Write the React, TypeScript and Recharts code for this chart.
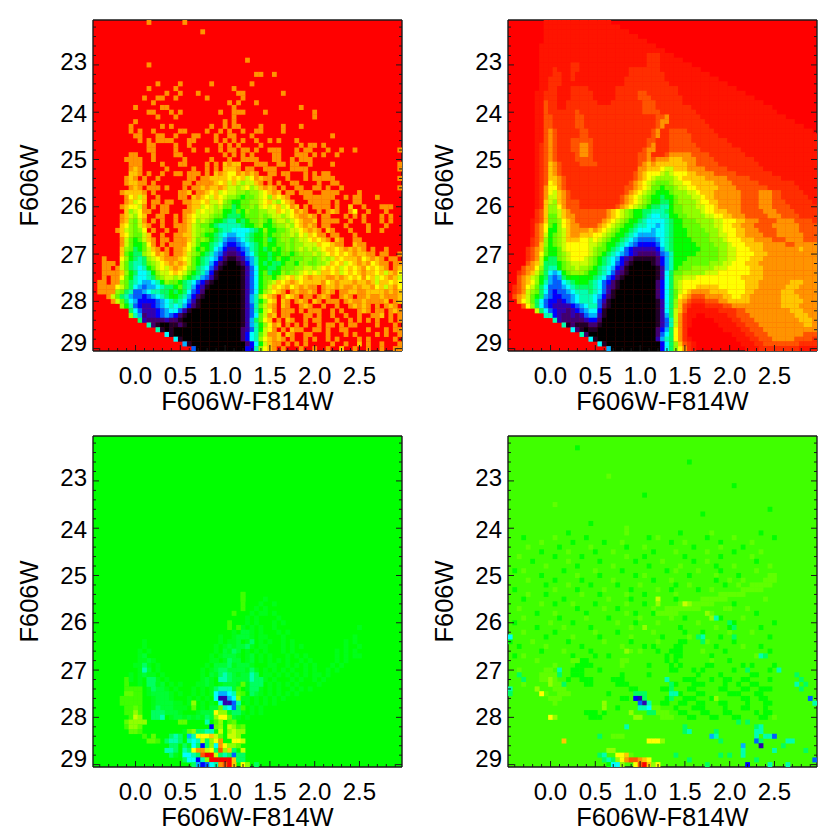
import { ReactElement } from "react";
import { ReferenceArea, Scatter, ScatterChart, XAxis, YAxis } from "recharts";

// colour bins are 0.05 mag wide, F606W bins 0.1 mag
const X_MIN = -0.475;
const X_MAX = 2.975;
const Y_MIN = 22.05;
const Y_MAX = 29.05;
const X_BIN = 0.05;
const Y_BIN = 0.1;

const X_TICKS = [
  -0.4, -0.3, -0.2, -0.1, 0, 0.1, 0.2, 0.3, 0.4, 0.5, 0.6, 0.7, 0.8, 0.9, 1, 1.1, 1.2,
  1.3, 1.4, 1.5, 1.6, 1.7, 1.8, 1.9, 2, 2.1, 2.2, 2.3, 2.4, 2.5, 2.6, 2.7, 2.8, 2.9,
];
const X_LABELS: Record<string, string> = {
  "0": "0.0", "0.5": "0.5", "1": "1.0", "1.5": "1.5", "2": "2.0", "2.5": "2.5",
};
const Y_TICKS = [
  22.2, 22.4, 22.6, 22.8, 23, 23.2, 23.4, 23.6, 23.8, 24, 24.2, 24.4, 24.6, 24.8, 25,
  25.2, 25.4, 25.6, 25.8, 26, 26.2, 26.4, 26.6, 26.8, 27, 27.2, 27.4, 27.6, 27.8, 28,
  28.2, 28.4, 28.6, 28.8, 29,
];
const Y_LABEL_NUDGE: Record<string, number> = {
  "23": -3, "24": 1, "25": 0, "26": -1, "27": 0, "28": -1, "29": -6,
};

const LEVELS: Record<string, string> = {
  "0": "#000000", "1": "#200028", "2": "#400070", "3": "#3000b0", "4": "#0000ff",
  "5": "#0060ff", "6": "#00b0ff", "7": "#00ffff", "8": "#00ffb0", "9": "#00ff60",
  o: "#00ff34", m: "#00ff1a", a: "#00ff00", n: "#40ff00", b: "#60ff00", c: "#90ff00", d: "#c8ff00",
  e: "#ffff00", f: "#ffc800", g: "#ff9400", h: "#ff5400", i: "#ff2e00", k: "#ff1400",
  j: "#ff0000",
};

// observed counts, one string per F606W bin, 10 colour bins per group; missing cells are background
const OBS_SPOTS: [number, number, string][] = [
  [0, 12, "g"], [0, 20, "g"], [2, 24, "g"], [8, 34, "g"], [9, 12, "g"], [11, 36, "g"], [11, 37, "g"], [11, 40, "g"],
  [13, 14, "g"], [13, 19, "g"], [13, 26, "g"], [13, 35, "g"], [14, 12, "g"], [14, 18, "g"], [14, 31, "g"],
  [15, 16, "g"], [15, 19, "g"], [15, 23, "g"], [15, 32, "g"], [15, 33, "g"], [15, 42, "g"],
  [16, 11, "g"], [16, 14, "g"], [16, 15, "g"], [16, 18, "g"], [16, 25, "g"], [16, 33, "g"],
  [17, 13, "g"], [17, 30, "g"], [17, 32, "g"], [17, 36, "g"],
  [18, 9, "g"], [18, 15, "g"], [18, 16, "g"], [18, 31, "g"], [18, 46, "g"],
  [19, 12, "g"], [19, 13, "g"], [19, 17, "g"], [19, 19, "g"], [19, 28, "g"], [19, 31, "g"], [19, 32, "g"], [19, 33, "g"], [19, 38, "g"], [19, 49, "g"],
  [20, 14, "g"], [20, 18, "g"], [20, 31, "g"], [20, 49, "g"],
  [21, 9, "g"], [21, 29, "g"], [21, 31, "g"],
  [22, 8, "g"], [22, 15, "g"], [22, 17, "g"], [22, 26, "g"], [22, 29, "g"], [22, 31, "g"], [22, 32, "g"], [22, 37, "g"], [22, 42, "g"], [22, 46, "g"],
  [23, 8, "g"], [23, 10, "g"], [23, 13, "g"], [23, 19, "g"], [23, 20, "g"], [23, 25, "g"], [23, 28, "g"], [23, 30, "g"], [23, 33, "g"], [23, 36, "g"], [23, 37, "g"], [23, 42, "g"],
  [24, 9, "g"], [24, 10, "g"], [24, 14, "g"], [24, 15, "g"], [24, 18, "g"], [24, 22, "g"], [24, 23, "g"], [24, 27, "g"], [24, 30, "g"], [24, 31, "g"], [24, 35, "g"], [24, 53, "g"],
  [25, 10, "g"], [25, 12, "g"], [25, 14, "g"], [25, 15, "g"], [25, 16, "g"], [25, 17, "g"], [25, 21, "g"], [25, 22, "g"], [25, 27, "g"], [25, 29, "g"], [25, 31, "g"], [25, 33, "g"], [25, 36, "g"], [25, 39, "g"], [25, 41, "g"], [25, 45, "g"],
  [26, 12, "g"], [26, 13, "g"], [26, 18, "g"], [26, 21, "g"], [26, 28, "g"], [26, 30, "g"], [26, 32, "g"], [26, 37, "g"], [26, 46, "g"], [26, 48, "g"], [26, 49, "g"], [26, 51, "g"],
  [27, 12, "g"], [27, 13, "g"], [27, 18, "g"], [27, 22, "g"], [27, 25, "g"], [27, 28, "g"], [27, 30, "g"], [27, 31, "g"], [27, 33, "g"], [27, 34, "g"], [27, 36, "g"], [27, 39, "g"], [27, 40, "g"], [27, 41, "g"], [27, 45, "g"], [27, 47, "g"], [27, 48, "g"], [27, 52, "g"], [27, 55, "g"], [27, 58, "g"], [27, 68, "g"],
];
const OBS_ROWS: string[] = [
  ...Array(28).fill(""),
  "jjjjjjjjgg jjjgjjjjgg jjjjjjjjjg jgjgjgjjjj ggjjjgggjg jgjjgjjjjj jjjjjjjjj",
  "jjjjjjjggg gjjgjjjjjj gjjjjjgjjj gjjggggjjj ggjjgjgggj jjjjjjjjjj jjjjjjjjj",
  "jjjjjjjjgg gjjjjgjjjg gjjjjgjgjf gffjjjgggj jggjggjjgj jjjgjjjjjj jjjjjjjjg",
  "jjjjjjjjgf gjjjjjgjjj jjgjjgjgjf ffgjggjjgg gjjjggggjj jjjjjjjjjj jjjjjjjjg",
  "jjjjjjjjff gjgjjgjjgg jgggjgjfgf eegfgfgjjg gjggjjjgjg jggjjjjjjj jjjjjjjjj",
  "jjjjjjjgfg jgjjgjjjjj jggjggffff efefdegfgg jjjgjjjgjg ggggjjjjjj jjjjjjjjg",
  "jjjjjjjgff ggjgjjjjjj ggjggggfef dfdcddfgjg jgjjggjjjj gjjggjjjjj jjjjjjjjj",
  "jjjjjjjjgf gjgggjgjjj gjggfgffgf ddcdecdfgf gjgjjggjjg gjgjjgjjjj jjjjjjjjg",
  "jjjjjjgfff fgjgjjjjjg gfjggfefde ddccbccdef gfjggjgggj jggggjjjjg jjjjjjjjj",
  "jjjjjjjgef dfjjgjjjjg gjfgfedfed ccbabbcdec fefgjjjggg ggggjjgjgg jjjgjjjjj",
  "jjjjjjjgfd efjggjggjj ggffefddec baabbccdef dcefgjjjgg gggjgjjjgg jjjjjjjjj",
  "jjjjjjgfee dgjgjggjjj jgffdedcdb b9abbcbded efdegfjgjg gggjgjjfjj gjjjgggjj",
  "jjjjjjjfcd eggjjggjjj ggfdeddcca a9bacbbccd dfedegfgjj gjgfgjjgej jgjjjgjjj",
  "jjjjjjgfdc efjjggjjgj gfedddcbba 999abbbcbc ddcdefggfg jggjjjgjgj gjjjgjgjj",
  "jjjjjjgfcb dgjgjgjjgj gfecdcbaa9 88a9abbcba cddcdefggf jggggjjgjj gjjjgjgjj",
  "jjjjjjfecb dfgjjgjjgg gfdcbba988 8889aabcaa bccdcefgfg jggjjjgjjj jgjjjgjjj",
  "jjjjjgfdcb cejgjjgjjg gfdccbba98 8777789aca abbcddefgf gjfgjjjgjj jgjjgjjjj",
  "jjjjjjfecb bdfjjgjjgg ffdcbaa987 667789aaba bbccdcedfe ggjggjjjgj jjjjjjjjj",
  "jjjjjjgdba bdfgjggjgg gfdbcba986 556789aab9 abccbcddef efgjfgjjgg jjjjjjjjj",
  "jjjjjjgdba abegjgjggg gedbaa9875 4456789aba abbcbccddd feefggjjfg gjjjjjjjj",
  "jjjjjjfcb9 abdfgjgjgg fecaba9764 3345689a9a babcbcdcdc deffefgfgf gjgjjgjjj",
  "jjjjjjfba9 9cdegfgjgg fdcba98653 2234679aa9 aabbabcccd cdefefefgf fggjggjjg",
  "jjgjjjeca9 89cdefgggf edba987642 1123568aa9 abaabbbccb cdcdfefffg efgfgjggj",
  "jjgggjdb98 89bcdefgfg fdba986421 0012468a9a 99abbaccbb ccdfefdefg fgefggjgg",
  "jjggjgdb98 78abdedfgf ecb9875310 0001357aa9 9abbbccddc defefdefef gefefgjgf",
  "jjggggfca9 778acddefe dba9864100 0001357ab9 aacbccdede dffefdefef gffefdfge",
  "jjgjggeba8 7789bcddcd ba98653100 0001357abb acdefdefgf ffggfgfefe gefdefgfd",
  "jggjggcb98 76678acbba 9875421000 0001357abc dfefgfefff fgefgfffgf fgfdffefe",
  "jggggedb97 65667899ab 9864310000 0001357abd fefgefgfgg jgffgfggfg ffgefdfge",
  "jggggcb985 5678899a9a 9754200000 0001357acd efgjgfggfg jgfgjggffg gffffgfgf",
  "jjjgdb9865 5456789aa9 8642100000 0001368cef gjgefgjggj gfgjjgfgjg gfggfgggf",
  "jjjjgdb976 4444567898 7531000000 0001368ace fjfgjgfgjf gjgggjgfgg fggggfjgf",
  "jjjjjjca85 4334567878 6421000000 0001358bdf gjfgjjgfgj jgjjgjjgfg fgjgjgfgj",
  "jjjjjjjj97 5333456775 3100000000 0001358ade gjgggjgjgg gjjgjgjjjg fgjggjgfg",
  "jjjjjjjjc8 6233456542 1000000000 0001357bdg fjggjjjggj gjjgjjgjjg jjggfjgjg",
  "jjjjjjjjjj 9322223221 0000000000 0001369bef jgjfgjjgjg gjjjgjjgjg jgjgjjgjg",
  "jjjjjjjjjj jj82100112 1000000000 0001368ace gfjgjgjgjj gjggjgjggj jjjgjjjgj",
  "jjjjjjjjjj jjjj810100 0000000000 0002358ade gjgjfggjjg gjgjjggjjj jgjjjgjgg",
  "jjjjjjjjjj jjjjjj7100 0000000000 0002478bdg gfjfgjjggj jjgjjjgjgj jjjgjgjjg",
  "jjjjjjjjjj jjjjjjjj71 0000000000 0002478cef gfgjgjjgjg jjgjgjjjjg jgjjjjjgj",
  "jjjjjjjjjj jjjjjjjjjj 6100000000 0000247adf ggjgjgjgjj jjjgjjgjjf jgjjgjjjg",
  "jjjjjjjjjj jjjjjjjjjj jj50000000 0000448cef gjgjjjgjjg jjgjjfjjgj jgjjgjjgg",
];

// model, same binning
const MODEL_ROWS: string[] = [
  "jjjjjjjjkk kkkkkkkkkk kkkj",
  "jjjjjjjjkk kkkkkkkkkk kkkkkj",
  "jjjjjjjjkk kkkkkkkkkk kkkkkkkj",
  "jjjjjjjjkk kkkkkkkkkk kkkkkkkkkj",
  "jjjjjjjjkk kkkkkkkkkk kkkkkkkkkk kj",
  "jjjjjjjkkk kkkkkkkkkk kkkkkkkkkk kkkj",
  "jjjjjjjkkk kkkkkkkkkk kkkkkkkkkk kkkkkj",
  "jjjjjjjkkk kkkkkkkkkk kkkkkkkkkk kiiikkkj",
  "jjjjjjjkkk kkkkkkkkkk kkkkkkkkkk kiiikkkkkj",
  "jjjjjjjkkk kkkkiikkkk kkkkkkkkkk kiiikkkkkk kj",
  "jjjjjjjkkk ikkkiikkkk kkkkkkkiii iiiikkkkkk kkkj",
  "jjjjjjjkkk iikkikkkkk kkkkkkkiii iiiiikkkkk kkkkkj",
  "jjjjjjjkki iikkikkkkk kkkkkkiiii iiiiikkkkk kkkkkkkj",
  "jjjjjjjkki iikkkkkkkk kkkkkkiiii iiiiiikkkk kkkkkkkkkj",
  "jjjjjjjkki ikkkiiiikk kkkkiiiiii iiiiiiiikk kkkkkkkkkk kj",
  "jjjjjjkkii ikkkiiiiik kkkkiiiiih hiiiiiiikk kkkkkkkkkk kkkj",
  "jjjjjjkkii ikkkiiiiik kkkkiiiiih hhiiiiiiik kkkkkkkkkk kkkkkj",
  "jjjjjjkkhi ikkiiiiiii kkkiiiiiii hhhiiiiiik kkkkkkkkkk kkkkkkkj",
  "jjjjjjkkhi ikkiiiiiii iiiiiiiiii hhhiiiiiii ikkkkkkkkk kkkkkkkkkj",
  "jjjjjjkkhi iiiiihiiii iiiiiiiiii hhhhiiiiii iikkkkkkkk kkkkkkkkkk j",
  "jjjjjjkkhh iiiiihhiii iiiiiiiiii iiihhgiiii iiikkkkkkk kkkkkkkkkk kkj",
  "jjjjjjkkhh iiiiihhiii iiiiiiiiii iiihggiiii iiiikkkkkk kkkkkkkkkk kkkkj",
  "jjjjjjkkhh iiiiihhiii iiiiiiiiii iiihgiiiii iiiiikkkkk kkkkkkkkkk kkkkkkj",
  "jjjjjjkkhg hiiiiihhii iiiiiiiiii iihgiihhhh iiiiiikkkk kkkkkkkkkk kkkkkkkkj",
  "jjjjjjkkhg hiiiiihhii iiiiiiiiii iihgiihhhh hiiiiiikkk kkkkkkkkkk kkkkkkkkk",
  "jjjjjjkkhg hiiihhhhhi iiiiiiiiii ihhiiihhhh hiiiiiiiik kkkkkkkkkk kkkkkkkkk",
  "jjjjjjkihg hiiihhgghi iiiiiiiiii ihgiiihhhh hhiiiiiiii kkkkkkkkkk kkkkkkkkk",
  "jjjjjjkihg hiiihhgghi iiiiiiiiii hggiiihhhh hhhiiiiiii iikkkkkkkk kkkkkkkkk",
  "jjjjjjkihg hiiiihgghi iiiiiiiiih hgiiihgggg ghhhhiiiii iiikkkkkkk kkkkkkkkk",
  "jjjjjjkihg hiiiihhhhi iiiiiiiiih hghgggfffg gghhhhiiii iiiiikkkkk kkkkkkkkk",
  "jjjjjjkihf ghiiiihhhh iiiiiiiiih gfgfffffff gghhhhhiii iiiiiikkkk kkkkkkkkk",
  "jjjjjjkihf ghiiiiiiii iiiiiiiiig gfffeddfff gggghhhhhi iiiiiiikkk kkkkkkkkk",
  "jjjjjjkihf ghiiiiiiii iiiiiiiihg feeedcdeee ffgggghhhh hiiiiiiiik kkkkkkkkk",
  "jjjjjjkihf fghiiiiiii iiiiiiiihg fedccccdef ffffgggggh hhhhiiiiii ikkkkkkkk",
  "jjjjjjkihe fghiiiiiii iiiiiiihgf edcbbbcdde efffffgggg hhhhhhiiii iiiikkkkk",
  "jjjjjjkige eghiiiiiii iiiiiihhgf edbbabbcdd eefffffggg ghhhhhhhii iiiiikkkk",
  "jjjjjjkige dfghiiiiii iiiiiihgfe dcbaaabccc ddefffgggg gghhhhgggh hiiiiikkk",
  "jjjjjjkigd dfghiiiiii iiiiihgfed cbaa9aabcc cddeffgggg gghhhhgggh hiiiiiikk",
  "jjjjjjkifd cfghhhiiii iiiiihgfed cbaa99abcc ccdeeffggg gghhhhgggh hhiiiiiik",
  "jjjjjjkifc ceghhhiiii iiiihgfedc ba9988abbc ccddeefggg gghhhhgggh hhhiiiiii",
  "jjjjjjihfc cdfghhhhhh hhgfedcbaa 998889abbc cccdeefffg gghhhhhggg hhhhiiiii",
  "jjjjjjihfb bdfgghhhhh hhgfedcbaa 987788aabb ccccddeeff ggghhhhhgg ghhhhiiii",
  "jjjjjkihfb bcefghhhhh hgfedcbaa9 8777789aab bbccccddee effggghhhh gggghhhhi",
  "jjjjjkhgeb acefgghhhh gfedcbaa98 8776789aab bbbcccddee ffggghhhhg ggggghhhh",
  "jjjjjkhgea acdfggggfg fedcbaa987 7767789aaa bbbbcccdee effggghhhh ggggghhhh",
  "jjjjjkhgda bcdfggfffe edcbaa9876 6667789aaa bbbbbccdde effgggghhh gggggghhh",
  "jjjjjihgca bcdfffeede dcbaa98765 5556789aaa abbbbcccde eefffggggh hhgggghhh",
  "jjjjjihfca bcdeeeeedd cbaa987654 4445789aaa aabbbbcccd eeeffffggg gghhggggg",
  "jjjjihgfba abdeeeeedc bba9875433 3334689aaa aaabbbbccd deeefffggg gggggfggg",
  "jjjjihgeba abcdeeeedc ba98765432 2223568aaa aabbbbbccd deeeefffgg ggggggggg",
  "jjjjihgda9 9bcdeeedcb a987643211 1112468aaa bbbbbbbccd deeefffggg ggggggggg",
  "jjjjhgfd99 9abcddddcb a987542100 0012468aab bbbbbcccdd eeefffgggg ggggggggg",
  "jjjhggec98 8abccdccba 9876431000 0001368abb bcccccddde eeeefffggg ggggggggg",
  "jjihgfdb97 67abcccbaa 9875321000 0001379bbc ccccdddeee eeeefffggg ggggggggg",
  "jjhgfdca96 569aaaaaa9 8754210000 0001379ccd ddeeeeeeee eefffffggg ggggggggg",
  "jjhgfeca86 55789aaa98 7542100000 0002479cde eeeeeeeeee eeefffgggg gggfffggg",
  "jihgedb975 5567899998 7532100000 0002479cde eefffffeee eeefffgggg ggfffgggg",
  "jihgdcb975 4556788898 7531000000 0002479bde fggggffffe eeeffggggg gfffggggg",
  "jhgfdba965 4455678887 6421000000 0002479bef ghhhggggff eeffgggggg gffffgggg",
  "jjgedb9754 4345678887 5310000000 0001379cfg hiiihhhggf ffffgggggg gfffffggg",
  "jjjhec9754 3333456788 5210000000 0001379cfh ikkkiiiihh gggggggggg gffffgggg",
  "jjjjjjd975 4332345677 4100000000 0001379dfh kkkkkkkiii ihhggggggg gggfffggg",
  "jjjjjjjj88 4322323566 3100000000 0001369dgi kkjjkkkkki ihhhgggggg ggggfffgg",
  "jjjjjjjjjj 8322222344 2000000000 0001358dgi kjjjjjkkkk iihhhggggg gggggfffg",
  "jjjjjjjjjj jj81211122 1000000000 0001358dgi kjjjjjjkkk kiihhhgggg ggggggffg",
  "jjjjjjjjjj jjjj721011 0000000000 0002469egi jjjjjjjjkk kkiihhhggg ggggggggg",
  "jjjjjjjjjj jjjjjj8200 0000000000 0002579egi jjjjjjjjjj kkkiihhhgg gggggghhh",
  "jjjjjjjjjj jjjjjjjj71 0000000000 0003689egi kjjjjjjjjj jkkkiihhhg gggghhhhi",
  "jjjjjjjjjj jjjjjjjjjj 7100000000 0000479cfh ikjjjjjjjj jjkkkiihhh hhhhhiiii",
  "jjjjjjjjjj jjjjjjjjjj jj60000000 0000479ceg ikjjjjjjjj jjjkkkiiii iiiiikkkk",
];

// residuals are nearly flat: faint rows first, then the cells that stand out
const RESID_ROWS: string[] = [
  ...Array(33).fill(""),
  "aaaaaaaaaa aaaaaaaaaa aaaaaaaaaa aaanaaaaaa aaaaaaaaaa",
  "aaaaaaaaaa aaaaaaaaaa aaaaaaaaaa aaanaaaama aaaaaaaaaa",
  "aaaaaaaaaa aaaaaaaaaa aaaaaaaaaa aaanaaamaa maaaaaaaaa",
  "aaaaaaaaaa aaaaaaaaaa aaaaaaaaaa aaaaaamama aaaaaaaaaa",
  "aaaaaaaaaa aaaaaaaaaa aaaaaaaaaa anaaamamma maaaaaaaaa",
  "aaaaaaaaaa aaaaaaaaaa aaaaaaaaaa aaaamamaaa amaaaaaaaa",
  "aaaaaaaaaa aaaaaaaaaa aaaaaaaaaa naaamamaaa mamaaaaaaa",
  "aaaaaaaaaa aaaaaaaaaa aaaaaaaaaa naamamamaa maaaaaaaaa aaaaaaaaam",
  "aaaaaaaaaa aaaaaaaaaa aaaaaaaaaa amaoomamaa amamaaaaaa aaaaaaaaaa",
  "aaaaaaaaaa aaaaaaaaaa aaaaaaaama amooomamma aamaaaaaaa aaaaaaaama",
  "aaaaaaaaaa amaaaaaaaa aaaaaaaama mmoamaamam aamamaaaaa aaaaaamama",
  "aaaaaaaaaa amaaaaaaaa aaaaaaamam omooamamma aamamamaaa aaaaaamaam",
  "aaaaaaaaaa mamaaaaaaa aaaaaaamao omoamamama aamamaaaaa aaaamamama",
  "aaaaaaaaaa moaaaaaaaa aaaaaamamo oomamoamam aaamamamaa aaaamamamm",
  "aaaaaaaaaa moomaaaaaa aaaaaamoam oooamoamam amamaamama aaaamamaaa",
  "aaaaaaaaam momamaaaaa aaaaamaooo omooomaaam maamamamam aaamamaaaa",
  "aaaaaaaaaa mooamaaaaa aaaamamoom oooooamama mamamaamam aamamaaaaa",
  "aaaaaaaama moomamaaaa aaaamaomma oomooamamm amamamamam mamaaaaaaa",
  "aaaaaaanma maoomamaaa aaaamomaao oooooamama maaamamaam amaaaaaaaa",
  "aaaaaaanaa mamoooamam aaamaomamo oooommomam amamamaaaa maaaaaaaaa",
  "aaaaaaannn namooomama aamamamooo oooamoamam amaamamama aaaaaaaaaa",
  "aaaaaaannn namoooomam aamamamooo ooamamomam amamamaaaa aaaaaaaaaa",
  "aaaaaannnn naamooomaa amamamamoo oomamamama mamaaaaaaa aaaaaaaaaa",
  "aaaaaannnn naamoooomm amaamamaoo mamamamama maaaaaaaaa",
  "aaaaaaanna naamaooomm maaamaooom ooomamamaa aaaaaaaaaa",
  "aaaaaaanna naaamoooom aaamoooooo ooomamamaa aaaaaaaaaa",
  "aaaaaaaana aaaaamamoo momoooomoo oomamaaaaa aaaaaaaaaa",
];
const RESID_SPOTS: [number, number, string][] = [
  [33, 33, "n"], [34, 33, "n"], [36, 33, "n"], [40, 32, "n"], [42, 37, "m"], [43, 35, "9"], [44, 34, "9"], [45, 30, "m"], [45, 31, "9"],
  [47, 11, "m"], [47, 27, "m"], [47, 30, "9"], [48, 11, "9"], [48, 30, "9"], [48, 31, "m"], [49, 11, "8"], [49, 28, "9"], [49, 29, "9"], [49, 34, "m"], [49, 35, "9"],
  [50, 12, "m"], [50, 28, "9"], [50, 29, "8"], [50, 30, "9"], [50, 35, "8"], [50, 36, "9"], [51, 12, "9"], [51, 13, "9"], [51, 28, "8"], [51, 29, "8"], [51, 30, "9"], [51, 35, "8"], [51, 36, "9"], [51, 37, "9"],
  [52, 12, "9"], [52, 13, "9"], [52, 14, "m"], [52, 23, "m"], [52, 24, "m"], [52, 32, "m"], [52, 33, "b"], [52, 35, "9"], [52, 36, "9"], [52, 37, "9"], [53, 13, "9"], [53, 27, "9"], [53, 28, "8"], [53, 29, "8"], [53, 30, "8"], [53, 32, "n"], [53, 35, "9"], [53, 36, "9"],
  [54, 7, "b"], [54, 8, "b"], [54, 27, "7"], [54, 28, "6"], [54, 29, "6"], [54, 30, "7"], [54, 31, "8"], [54, 32, "b"], [54, 33, "n"], [54, 35, "9"],
  [55, 7, "n"], [55, 27, "7"], [55, 28, "3"], [55, 29, "3"], [55, 30, "6"], [55, 31, "7"], [55, 32, "c"], [55, 33, "m"],
  [56, 8, "n"], [56, 22, "b"], [56, 28, "7"], [56, 29, "3"], [56, 30, "3"], [56, 31, "5"], [56, 32, "8"], [56, 22, "c"],
  [57, 9, "b"], [57, 13, "m"], [57, 14, "9"], [57, 22, "b"], [57, 28, "b"], [57, 29, "8"], [57, 30, "7"], [57, 31, "5"], [57, 32, "9"], [57, 33, "n"],
  [58, 9, "c"], [58, 13, "9"], [58, 14, "9"], [58, 15, "9"], [58, 27, "e"], [58, 28, "c"], [58, 29, "c"], [58, 30, "m"], [58, 31, "9"], [58, 32, "9"],
  [59, 9, "d"], [59, 10, "c"], [59, 13, "9"], [59, 14, "9"], [59, 15, "8"], [59, 24, "m"], [59, 25, "9"], [59, 27, "c"], [59, 28, "e"], [59, 29, "e"], [59, 30, "b"],
  [60, 7, "b"], [60, 8, "c"], [60, 9, "c"], [60, 10, "c"], [60, 11, "c"], [60, 19, "b"], [60, 20, "b"], [60, 25, "8"], [60, 27, "n"], [60, 28, "c"], [60, 30, "n"], [60, 31, "b"],
  [61, 7, "n"], [61, 8, "c"], [61, 9, "c"], [61, 10, "b"], [61, 26, "4"], [61, 27, "b"], [61, 28, "c"], [61, 30, "d"], [61, 31, "c"], [61, 32, "n"], [61, 33, "b"],
  [62, 8, "b"], [62, 9, "b"], [62, 10, "n"], [62, 20, "m"], [62, 21, "b"], [62, 22, "c"], [62, 23, "9"], [62, 24, "9"], [62, 25, "8"], [62, 26, "8"], [62, 28, "d"], [62, 30, "c"], [62, 31, "d"], [62, 32, "c"], [62, 33, "c"],
  [63, 11, "n"], [63, 13, "b"], [63, 17, "9"], [63, 18, "8"], [63, 19, "9"], [63, 21, "6"], [63, 22, "8"], [63, 23, "e"], [63, 24, "e"], [63, 25, "e"], [63, 26, "f"], [63, 27, "d"], [63, 28, "b"], [63, 30, "d"], [63, 31, "d"], [63, 32, "c"],
  [64, 12, "b"], [64, 13, "b"], [64, 14, "n"], [64, 16, "9"], [64, 17, "8"], [64, 18, "8"], [64, 19, "9"], [64, 21, "8"], [64, 22, "7"], [64, 23, "8"], [64, 24, "d"], [64, 25, "9"], [64, 26, "c"], [64, 27, "e"], [64, 28, "g"], [64, 31, "e"], [64, 32, "e"], [64, 33, "d"],
  [65, 17, "9"], [65, 18, "9"], [65, 20, "9"], [65, 21, "m"], [65, 22, "7"], [65, 23, "9"], [65, 24, "4"], [65, 25, "9"], [65, 26, "c"], [65, 27, "7"], [65, 28, "g"], [65, 29, "e"], [65, 30, "c"], [65, 31, "c"], [65, 32, "b"],
  [66, 16, "8"], [66, 17, "8"], [66, 18, "9"], [66, 20, "8"], [66, 21, "9"], [66, 22, "e"], [66, 23, "g"], [66, 24, "g"], [66, 25, "d"], [66, 26, "e"], [66, 27, "9"], [66, 28, "h"], [66, 29, "c"], [66, 30, "f"], [66, 31, "9"], [66, 33, "d"],
  [67, 17, "9"], [67, 18, "m"], [67, 20, "7"], [67, 21, "7"], [67, 22, "8"], [67, 23, "9"], [67, 24, "h"], [67, 25, "j"], [67, 26, "j"], [67, 27, "d"], [67, 28, "9"], [67, 29, "8"], [67, 30, "9"], [67, 31, "5"], [67, 32, "9"], [67, 33, "9"],
  [68, 20, "9"], [68, 21, "7"], [68, 22, "7"], [68, 23, "4"], [68, 24, "8"], [68, 25, "c"], [68, 26, "j"], [68, 27, "j"], [68, 28, "j"], [68, 29, "j"], [68, 30, "j"], [68, 31, "f"], [68, 32, "9"], [68, 33, "9"],
  [69, 22, "9"], [69, 23, "6"], [69, 24, "4"], [69, 25, "5"], [69, 26, "7"], [69, 27, "8"], [69, 28, "g"], [69, 29, "h"], [69, 30, "j"], [69, 31, "f"], [69, 32, "a"], [69, 33, "e"], [69, 34, "c"], [69, 36, "9"],
];
const FRAC_ROWS: string[] = [
  ...Array(20).fill(""),
  "nnnnnnnnnn nnnannnnnn nnnnnnbnnn nnnnnnnnan nnnnnbnnnn nnnnnnannn",
  "nnnannnnnn bnnnnnnann nnnnnnnnnn nanbnnnnnn nnnnannnnn bnnnnnnnna",
  "nnnnnnnbnn nnnnannnnn nannnbnnnn nnnnnnannb nnnnnnnann nnnnbnnnnn",
  "nnnnbnnnnn nannnnnnbn nnnnnnannn bnnnnnnnnn nannnnnbnn nnannnnnnn",
  "nnnnnnnann nnnbnnnnna nnnbnnnnnn nnannnnbnn nnnnbnnnnn annnnnbnnn",
  "nnbnnnnnnn annnnnannn nnnnnnbnnn annnnnnnna nnnnnnnann nnnnbnnnnn",
  "nnnnnannnn nnnbnnnnnn annnnnnnan nnnnbnnnnn nannbnnnnn nnnnnannnn",
  "nnnnnnnnbn nnnnnannnn nnnbnnnnnn nannnnnnbn nnnnnnannn bnnnnnnnbn",
  "nanbnnnnnn nnannnnnnb nnnnnannnn nnnnnanbnn nnbnnnnann nnnnnbnnnn",
  "nnnnnnnann nnnnnbnnnn annnnnnnan bnnnnnnnnn annnnnbnnn nannnnnnbb",
  "nnnnbnnnnn annnnnannn nnnbnnnnnn nnannnbnnn nnnnnnannb nnbnnnnbbb",
  "nnnnnnnnan nnnbnnnnan nnnnannnnb nnnnnnnann bnnnnnnnan nbnnbbbbbn",
  "nannnnnnnn bnnnnannnn nbnnnnnann nnnbnnannn nnannbnnnn nnbbbbbnnn",
  "nnnnbnnnan nnnnnnbnnn annnnnbnnn annnnnnbnn nnnnnnnbbb bbbnnnnnnn",
  "nnnannnnnn nnannnnnnn nnbnnnnann nnnbnnnann nnnbbbbbbn nnnnnnnbnn",
  "nnnnnnnbnn annnbnnnna nnnnnnbnnn annnnnnnbb bbbbbbnnnn annnnnnnnn",
  "nnbnnnnnnn nnnnnannnn nbnnannnnn nnbnnbbbbb bbnnnnnnan nnnbnnnnnn",
  "nnnnnnannn bnnnnnnann nnnnnnbnan nnabbbbbnn nnnnnbnnnn nnnnnannnn",
  "nnnbnnnnnn nannnnnbnn nnannnnnnb nnnnnnbnna nnnnnnnann nnbnnnnnnn",
  "nannnnnnnb nnnnannnnn nnnnbnnnan nnnbnnnnnn nnbnnnnnnn annnnnnnna",
  "nnnnnnannn nnbnnnnnan nnnnnnnbnn annnnnnnan nnnnnnbnnn nnnnnnannn",
  "nnnbnnnnnn annnnnnnnb nnnnannnnn nnbnnnnnna nnnannnnnb nnnnbnnnnn",
  "nnnnnnnnan nnnnbnnnnn annnnnnbnn nnnnannnnn bnnnnnnann nnnnnnnnan",
  "annnnbnnnn nnnannnnnn nbnnnnnann nnnbnnnnaa nnnnbnnnnn annnnnnnnn",
  "nnannnnnbn nnnnnnannn nnnnnbnnnn anannnnaan nnnnnnannn nnbnnnannn",
  "nnnnnnnann nnbnnnnnan nnnnnnnanb nnnannaaan nnnbnnnnan nnnnnnnnan",
  "nanbnnnnnn nnnnannnna nnannnnnnn nnnnnanaan nnnnnannnn nnnnnbnnnn",
  "nnnnnnbnnn nnnnnnaann nnnnnbbnnn nnnnnanann nnnnnbnnna nnnnnnnnnn",
  "nnnnnnnnnn bnnnnaaaan nnnnnbnnnn nannnnanan nnnnaannnn nnanannnna",
  "nnbnnnnnbb nnnnaaannn annnnnnnnn nnnnnnaann nanannnnnn annnnnnnan",
  "nnnnnnnbbb bnnnaaannn nnnnnannnn nannnnnnnn nnannnnann nnnnaannnn",
  "nnnnnnnbbc bnnannaaan nnnaaannnn nnnnnnnnna aannnannaa nnaannnnan",
  "nnnbnnnnnc bbnnnnnaan nnnnaaannn nnnnnnaann naaannnnan nannaannnn",
  "nnnnnnbnnn bbbnnnnnnn nnnnnnnaan nnnnaannnn aannnnnaan nnaannaaan",
  "nnnnnnnnbn nbbbnnnnnn nnannnnnnn nnnnnnaaan nnaannnnna aannnaannn",
  "nnnnnnnnnb bbnnnnnnnn nnnnnaannn nnnnnannna aannnaannn nnaannaann",
  "nnnnnnnnnn bnnnnnnnnn nnnnnnnnnb bbnnaannaa nnaannnaan nnnannnaan",
  "nnnnnnnnnn nnnnnnnnnn nnnnannnnn nbbbnnnann naaannnnan nnaannnann",
  "nnnnnnnnnn nnnnnnnaaa nannnnnnnn nnnbbbnnaa nnnaannnaa nnnnnanaan",
  "nnnnnnnnnn nnnnnnnnaa annnnnnnnn nnnnbbbnnn aannnaannn aannnnaanb",
];
const FRAC_SPOTS: [number, number, string][] = [
  [2, 15, "a"], [5, 40, "a"], [8, 22, "b"], [10, 50, "a"], [12, 30, "a"], [14, 10, "b"], [15, 58, "a"], [16, 43, "a"], [18, 18, "a"], [19, 26, "b"],
  [34, 33, "d"], [35, 33, "c"], [36, 42, "b"], [36, 48, "b"], [36, 49, "b"],
  [35, 40, "c"], [35, 39, "d"], [37, 33, "b"], [37, 44, "c"], [38, 45, "c"], [38, 46, "8"], [39, 49, "9"], [40, 49, "a"], [40, 50, "9"], [40, 30, "c"],
  [42, 0, "7"], [42, 43, "8"], [42, 42, "9"], [42, 50, "9"], [43, 43, "9"], [45, 27, "b"], [45, 26, "c"], [46, 56, "8"], [46, 57, "9"], [47, 14, "b"], [47, 15, "b"],
  [49, 11, "8"], [49, 60, "8"], [49, 53, "9"], [50, 2, "9"], [50, 11, "9"], [50, 64, "9"], [51, 3, "9"], [51, 35, "8"], [51, 65, "9"], [52, 12, "9"], [52, 36, "9"], [52, 64, "8"], [52, 66, "9"],
  [53, 0, "8"], [53, 6, "c"], [53, 36, "9"], [53, 65, "9"], [54, 0, "9"], [54, 7, "e"], [54, 36, "8"], [54, 37, "8"], [54, 28, "9"], [54, 29, "9"], [54, 30, "9"],
  [55, 28, "4"], [55, 29, "3"], [55, 30, "9"], [55, 36, "9"], [55, 46, "c"], [55, 67, "5"], [56, 29, "5"], [56, 30, "3"], [56, 31, "8"], [56, 21, "c"], [56, 68, "8"], [57, 21, "c"], [57, 29, "8"], [57, 30, "8"], [57, 31, "7"],
  [58, 27, "c"], [58, 31, "9"], [58, 32, "9"], [59, 9, "e"], [59, 10, "c"], [59, 28, "c"], [59, 29, "c"], [60, 51, "9"], [60, 53, "9"], [61, 39, "9"], [61, 55, "9"], [61, 56, "8"], [61, 26, "8"],
  [62, 39, "9"], [62, 40, "8"], [62, 46, "9"], [62, 55, "8"], [62, 56, "8"], [63, 20, "9"], [63, 45, "6"], [63, 46, "8"], [63, 55, "8"], [63, 57, "8"], [63, 58, "8"], [63, 59, "5"], [63, 23, "b"], [63, 24, "b"], [63, 25, "b"],
  [64, 12, "f"], [64, 31, "e"], [64, 32, "e"], [64, 33, "e"], [64, 34, "c"], [64, 47, "9"], [64, 55, "5"], [64, 56, "9"], [64, 62, "8"], [64, 63, "8"], [65, 52, "6"], [65, 56, "3"], [65, 61, "9"], [66, 22, "c"], [66, 23, "c"], [66, 52, "8"], [66, 59, "8"], [66, 66, "9"],
  [67, 20, "9"], [67, 21, "8"], [67, 24, "e"], [67, 25, "e"], [67, 26, "f"], [67, 27, "b"], [67, 37, "9"], [67, 47, "9"], [67, 49, "9"], [67, 52, "8"],
  [68, 21, "9"], [68, 22, "8"], [68, 23, "9"], [68, 24, "c"], [68, 25, "e"], [68, 26, "g"], [68, 27, "h"], [68, 28, "h"], [68, 29, "g"], [68, 30, "f"], [68, 31, "e"], [68, 40, "9"], [68, 55, "9"], [68, 68, "5"],
  [69, 22, "a"], [69, 23, "7"], [69, 24, "7"], [69, 25, "c"], [69, 28, "e"], [69, 29, "h"], [69, 30, "j"], [69, 31, "f"], [69, 32, "c"], [69, 33, "e"], [69, 44, "9"], [69, 53, "4"], [69, 58, "8"], [69, 62, "8"],
];

type Cell = { x: number; y: number; fill: string };

function buildCells(bg: string, rows: string[], spots: [number, number, string][]): Cell[] {
  const cells: Cell[] = [];
  const put = (r: number, c: number, lvl: string) => {
    if (c > 68 || lvl === bg) return;
    cells.push({ x: X_MIN + (c + 0.5) * X_BIN, y: Y_MIN + (r + 0.5) * Y_BIN, fill: LEVELS[lvl] });
  };
  rows.forEach((row, r) => {
    row.replace(/ /g, "").split("").forEach((lvl, c) => put(r, c, lvl));
  });
  spots.forEach(([r, c, lvl]) => put(r, c, lvl));
  return cells;
}

const FONT = "'Liberation Sans', Arial, sans-serif";
const AXIS_COLOR = "#1a1a1a";
const PLOT_W = 309;
const PLOT_H = 331;
const CELL_W = PLOT_W / 69 + 0.3;
const CELL_H = PLOT_H / 70 + 0.3;

const isMajorX = (v: number) => Math.abs(v * 2 - Math.round(v * 2)) < 1e-6;
const isMajorY = (v: number) => Math.abs(v - Math.round(v)) < 1e-6;

function BottomTick(p: any): ReactElement {
  const v = p.payload.value;
  const major = isMajorX(v);
  return (
    <g>
      <line x1={p.x} x2={p.x} y1={p.y} y2={p.y - (major ? 6 : 3)} stroke={AXIS_COLOR} />
      {major && (
        <text x={p.x} y={p.y + 33} textAnchor="middle" fontSize={24} fontFamily={FONT} fill="#000">
          {X_LABELS[String(v)]}
        </text>
      )}
    </g>
  );
}
function TopTick(p: any): ReactElement {
  const major = isMajorX(p.payload.value);
  return <line x1={p.x} x2={p.x} y1={p.y} y2={p.y + (major ? 6 : 3)} stroke={AXIS_COLOR} />;
}
function LeftTick(p: any): ReactElement {
  const v = p.payload.value;
  const major = isMajorY(v);
  return (
    <g>
      <line x1={p.x} x2={p.x + (major ? 6 : 3)} y1={p.y} y2={p.y} stroke={AXIS_COLOR} />
      {major && (
        <text x={p.x - 6} y={p.y + 8.5 + (Y_LABEL_NUDGE[String(v)] ?? 0)} textAnchor="end" fontSize={24} fontFamily={FONT} fill="#000">
          {v}
        </text>
      )}
    </g>
  );
}
function RightTick(p: any): ReactElement {
  const major = isMajorY(p.payload.value);
  return <line x1={p.x} x2={p.x - (major ? 6 : 3)} y1={p.y} y2={p.y} stroke={AXIS_COLOR} />;
}

function CellMark(p: any): ReactElement {
  return <rect x={p.cx - CELL_W / 2} y={p.cy - CELL_H / 2} width={CELL_W} height={CELL_H} fill={p.payload.fill} />;
}

function Panel({ left, top, bg, cells }: { left: number; top: number; bg: string; cells: Cell[] }) {
  const axisLine = { stroke: AXIS_COLOR, strokeWidth: 1.4 };
  return (
    <div style={{ position: "absolute", left, top }}>
      <ScatterChart width={415} height={415} margin={{ top: 19, right: 12, bottom: 63, left: 92 }}>
        <XAxis xAxisId="b" orientation="bottom" type="number" dataKey="x" domain={[X_MIN, X_MAX]} ticks={X_TICKS} interval={0} height={1} tickSize={0} tickMargin={0} tickLine={false} axisLine={axisLine} tick={BottomTick} allowDataOverflow />
        <XAxis xAxisId="t" orientation="top" type="number" domain={[X_MIN, X_MAX]} ticks={X_TICKS} interval={0} height={1} tickSize={0} tickMargin={0} tickLine={false} axisLine={axisLine} tick={TopTick} allowDataOverflow />
        <YAxis yAxisId="l" orientation="left" type="number" dataKey="y" reversed domain={[Y_MIN, Y_MAX]} ticks={Y_TICKS} interval={0} width={1} tickSize={0} tickMargin={0} tickLine={false} axisLine={axisLine} tick={LeftTick} allowDataOverflow />
        <YAxis yAxisId="r" orientation="right" type="number" reversed domain={[Y_MIN, Y_MAX]} ticks={Y_TICKS} interval={0} width={1} tickSize={0} tickMargin={0} tickLine={false} axisLine={axisLine} tick={RightTick} allowDataOverflow />
        <ReferenceArea xAxisId="b" yAxisId="l" x1={X_MIN} x2={X_MAX} y1={Y_MIN} y2={Y_MAX} fill={LEVELS[bg]} fillOpacity={1} stroke="none" />
        <Scatter xAxisId="b" yAxisId="l" data={cells} shape={CellMark} isAnimationActive={false} />
        <text x={247.5} y={410} textAnchor="middle" fontSize={25.5} fontFamily={FONT} fill="#000">F606W-F814W</text>
        <text x={38} y={185.5} textAnchor="middle" fontSize={25.5} fontFamily={FONT} fill="#000" transform="rotate(-90 38 185.5)">F606W</text>
      </ScatterChart>
    </div>
  );
}

export default function App() {
  return (
    <div style={{ position: "absolute", left: 0, top: 0, width: 830, height: 830, background: "#fff" }}>
      <Panel left={0} top={0} bg="j" cells={buildCells("j", OBS_ROWS, OBS_SPOTS)} />
      <Panel left={415} top={0} bg="j" cells={buildCells("j", MODEL_ROWS, [])} />
      <Panel left={0} top={416} bg="a" cells={buildCells("a", RESID_ROWS, RESID_SPOTS)} />
      <Panel left={415} top={416} bg="n" cells={buildCells("n", FRAC_ROWS, FRAC_SPOTS)} />
    </div>
  );
}
